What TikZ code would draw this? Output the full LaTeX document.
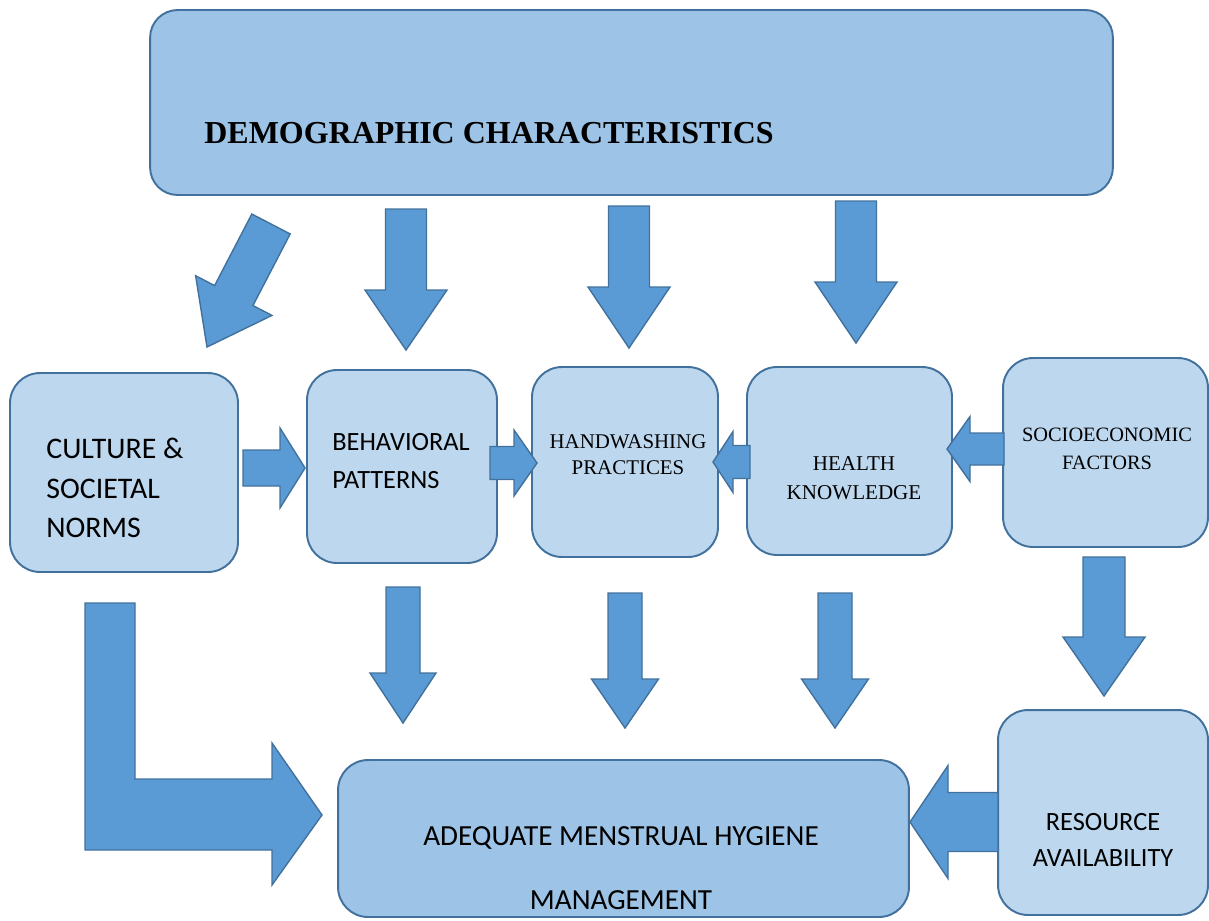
\documentclass[tikz,border=0pt]{standalone}
\usepackage{fontspec}
\setmainfont{Liberation Serif}
\newfontfamily\calibri{Carlito}
\usepackage{tikz}
\usetikzlibrary{calc}

\definecolor{boxlight}{HTML}{BDD7EE}
\definecolor{boxdark}{HTML}{9DC3E6}
\definecolor{arrowfill}{HTML}{5B9BD5}
\definecolor{edgeblue}{HTML}{41719C}

% block arrow: from, tip, half shaft, half head, head length (in px)
\newcommand{\blockarrow}[5]{%
  \coordinate (hb) at ($(#2)!#5*0.02cm!(#1)$);
  \draw[barrow] ($(#1)!#3*0.02cm!90:(#2)$) -- ($(hb)!#3*0.02cm!90:(#2)$)
    -- ($(hb)!#4*0.02cm!90:(#2)$) -- (#2) -- ($(hb)!#4*0.02cm!-90:(#2)$)
    -- ($(hb)!#3*0.02cm!-90:(#2)$) -- ($(#1)!#3*0.02cm!-90:(#2)$) -- cycle;
}

\begin{document}
\begin{tikzpicture}[x=0.02cm, y=-0.02cm,
  box/.style={draw=edgeblue, line width=1.1pt, fill=boxlight, rounded corners=0.6cm, inner sep=0pt},
  barrow/.style={draw=edgeblue, line width=0.8pt, fill=arrowfill, line join=miter},
  txt/.style={inner sep=0pt, align=center}]
 \useasboundingbox (0,0) rectangle (1209,920);

 %top
 \node[box, fill=boxdark, rounded corners=0.55cm, minimum width=19.26cm, minimum height=3.70cm] (demo) at (631.5,102.5) {};

 %middle row
 \node[box, minimum width=4.56cm, minimum height=3.98cm] (culture) at (124,472.5) {};
 \node[box, minimum width=3.80cm, minimum height=3.86cm] (behav) at (402,466.5) {};
 \node[box, minimum width=3.72cm, minimum height=3.80cm] (handw) at (625,462) {};
 \node[box, minimum width=4.10cm, minimum height=3.76cm] (health) at (849.5,461) {};
 \node[box, minimum width=4.10cm, minimum height=3.78cm] (socio) at (1105.5,452.5) {};

 %bottom row
 \node[box, minimum width=4.20cm, minimum height=4.10cm] (resource) at (1103,812.5) {};
 \node[box, fill=boxdark, minimum width=11.42cm, minimum height=3.14cm] (adequate) at (623.5,838.5) {};

 %arrow ends
 \coordinate (d0a) at (271,224); \coordinate (d0b) at (207,347);
 \coordinate (d1a) at (406,209); \coordinate (d1b) at (406,350);
 \coordinate (d2a) at (629,206); \coordinate (d2b) at (629,348);
 \coordinate (d3a) at (856,201); \coordinate (d3b) at (856,343);

 \coordinate (cba) at (243,468); \coordinate (cbb) at (305,468);
 \coordinate (bha) at (490,463); \coordinate (bhb) at (537,463);
 \coordinate (hha) at (750,462); \coordinate (hhb) at (713,462);
 \coordinate (sha) at (1004,449); \coordinate (shb) at (947,449);

 \coordinate (a1a) at (403,587); \coordinate (a1b) at (403,723);
 \coordinate (a2a) at (625,593); \coordinate (a2b) at (625,728);
 \coordinate (a3a) at (835,593); \coordinate (a3b) at (835,728);
 \coordinate (sra) at (1104,557); \coordinate (srb) at (1104,696);
 \coordinate (raa) at (998,822); \coordinate (rab) at (910,822);

 %arrows
 \blockarrow{d0a}{d0b}{21.6}{43}{58}
 \blockarrow{d1a}{d1b}{20.5}{41}{60}
 \blockarrow{d2a}{d2b}{20.5}{41}{61}
 \blockarrow{d3a}{d3b}{20.5}{41}{61}

 \blockarrow{cba}{cbb}{18}{40}{25}
 \blockarrow{bha}{bhb}{16.5}{33}{23}
 \blockarrow{hha}{hhb}{16.5}{30.5}{20}
 \blockarrow{sha}{shb}{16}{32.5}{23}

 \blockarrow{a1a}{a1b}{17}{33}{50}
 \blockarrow{a2a}{a2b}{17}{33.5}{49}
 \blockarrow{a3a}{a3b}{17}{33.5}{49}
 \blockarrow{sra}{srb}{21}{41}{59}
 \blockarrow{raa}{rab}{29.5}{56.5}{38}

 %bent arrow
 \draw[barrow] (85,603) -- (135,603) -- (135,779) -- (272,779) -- (272,743) -- (322,815)
   -- (272,885) -- (272,850) -- (85,850) -- cycle;

 %texts
 \node[txt, anchor=west, font=\fontsize{18.2}{21}\selectfont\bfseries] (demotxt) at (204,133) {DEMOGRAPHIC CHARACTERISTICS};
 \node[txt, anchor=west, align=left, font=\calibri\fontsize{17}{22.7}\selectfont] (culturetxt) at (46,488) {CULTURE \&\\SOCIETAL\\NORMS};
 \node[txt, anchor=west, align=left, font=\calibri\fontsize{15}{21.5}\selectfont] (behavtxt) at (332,461) {BEHAVIORAL\\PATTERNS};
 \node[txt, font=\fontsize{11.9}{14.7}\selectfont] (handwtxt) at (628,455) {HANDWASHING\\PRACTICES};
 \node[txt, font=\fontsize{12}{16.4}\selectfont] (healthtxt) at (854,478) {HEALTH\\KNOWLEDGE};
 \node[txt, font=\fontsize{11.6}{15.9}\selectfont] (sociotxt) at (1107,449) {SOCIOECONOMIC\\FACTORS};
 \node[txt, font=\calibri\fontsize{15}{20.4}\selectfont] (resourcetxt) at (1103,840) {RESOURCE\\AVAILABILITY};
 \node[txt, font=\calibri\fontsize{16.6}{36}\selectfont] (adequatetxt) at (621,868) {ADEQUATE MENSTRUAL HYGIENE\\MANAGEMENT};
\end{tikzpicture}
\end{document}
